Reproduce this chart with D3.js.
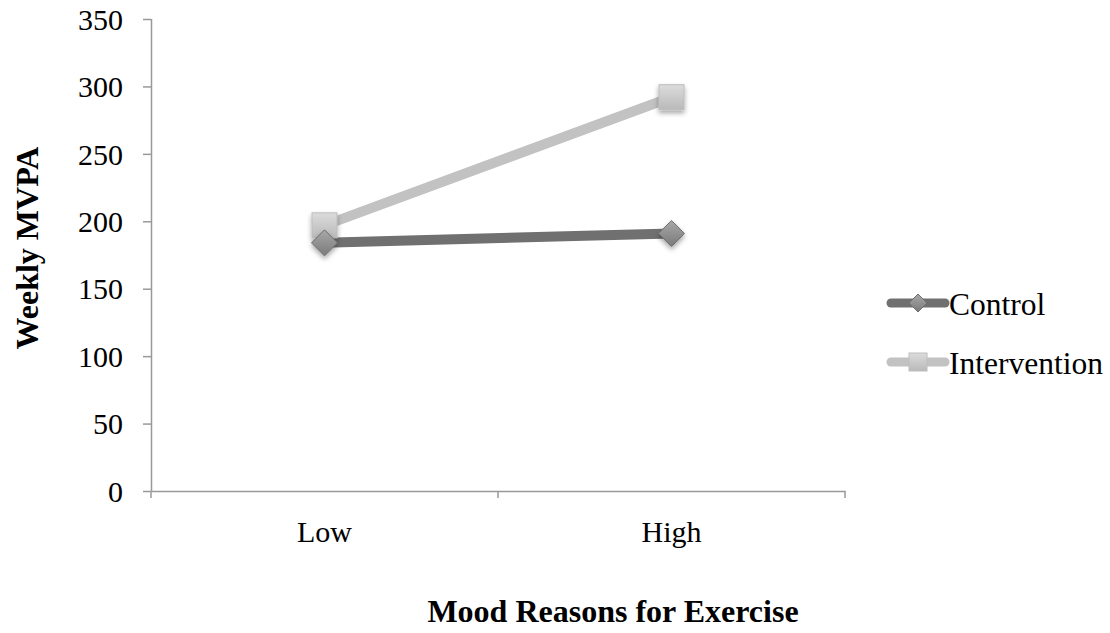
<!DOCTYPE html>
<html>
<head>
<meta charset="utf-8">
<script src="https://cdn.jsdelivr.net/npm/d3@7"></script>
<style>
  body { margin: 0; background: #fff; }
  svg { display: block; font-family: "Liberation Serif", "Times New Roman", serif; }
</style>
</head>
<body>
<svg id="chart" width="1110" height="633"></svg>
<script>
// Weekly MVPA by level of mood reasons for exercise
const categories = ["Low", "High"];
const seriesNames = ["Control", "Intervention"];
const controlValues = [184, 191];
const interventionValues = [197, 292];
const yTicks = [0, 50, 100, 150, 200, 250, 300, 350];

const svg = d3.select("#chart");
const margin = { left: 151, right: 265, top: 19, bottom: 142 };
const width = 1110, height = 633;

const x = d3.scaleBand().domain(categories).range([margin.left, width - margin.right]);
const y = d3.scaleLinear().domain([0, 350]).range([height - margin.bottom, margin.top]);

const defs = svg.append("defs");
const sq = defs.append("linearGradient").attr("id", "gSquare").attr("x1", 0).attr("y1", 0).attr("x2", 0).attr("y2", 1);
sq.append("stop").attr("offset", "0%").attr("stop-color", "#dcdcdc");
sq.append("stop").attr("offset", "100%").attr("stop-color", "#b9b9b9");
const dm = defs.append("linearGradient").attr("id", "gDiamond").attr("x1", 0).attr("y1", 0).attr("x2", 0).attr("y2", 1);
dm.append("stop").attr("offset", "0%").attr("stop-color", "#a8a8a8");
dm.append("stop").attr("offset", "100%").attr("stop-color", "#7a7a7a");
const sh = defs.append("filter").attr("id", "shadow").attr("x", "-50%").attr("y", "-50%").attr("width", "200%").attr("height", "200%");
sh.append("feDropShadow").attr("dx", 0).attr("dy", 3).attr("stdDeviation", 2.5).attr("flood-color", "#000").attr("flood-opacity", 0.35);

// Axes
const yAxis = d3.axisLeft(y).tickValues(yTicks).tickSize(8).tickPadding(20).tickFormat(d3.format("d"));
const gy = svg.append("g").attr("transform", `translate(${margin.left},0)`).call(yAxis);
const xAxis = d3.axisBottom(x).tickSize(0).tickPadding(30);
const gx = svg.append("g").attr("transform", `translate(0,${y(0)})`).call(xAxis);

[gy, gx].forEach(g => {
  g.attr("font-size", null).attr("font-family", null);
  g.select(".domain").attr("stroke", "#999").attr("stroke-width", 1.5);
  g.selectAll(".tick line").attr("stroke", "#999").attr("stroke-width", 1.5);
  g.selectAll("text").attr("fill", "#000").style("font-family", "'Liberation Serif', serif").style("font-size", "30px");
});
gy.selectAll("text").attr("dy", "0.34em");
gy.select(".domain").attr("d", `M0.5,${y(0)}V${y(350)}`);

// Category boundary ticks on the x axis
const bounds = [x.range()[0], x.range()[0] + x.step(), x.range()[1]];
gx.selectAll(".bound").data(bounds).join("line")
  .attr("x1", d => d).attr("x2", d => d).attr("y1", 0).attr("y2", 7)
  .attr("stroke", "#999").attr("stroke-width", 1.5);

const cx = c => x(c) + x.bandwidth() / 2;
const line = d3.line().x((d, i) => cx(categories[i])).y(d => y(d));

const series = [
  { name: seriesNames[0], values: controlValues, color: "#707070", shape: "diamond" },
  { name: seriesNames[1], values: interventionValues, color: "#c2c2c2", shape: "square" }
];

function drawMarker(g, shape, px, py) {
  if (shape === "square") {
    g.append("rect").attr("x", px - 12.5).attr("y", py - 12.5).attr("width", 25).attr("height", 25)
      .attr("fill", "url(#gSquare)").attr("stroke", "#bdbdbd").attr("stroke-width", 1).attr("filter", "url(#shadow)");
  } else {
    g.append("path").attr("d", `M${px},${py - 13}L${px + 13},${py}L${px},${py + 13}L${px - 13},${py}Z`)
      .attr("fill", "url(#gDiamond)").attr("stroke", "#6e6e6e").attr("stroke-width", 1).attr("filter", "url(#shadow)");
  }
}

series.forEach(s => {
  svg.append("path").datum(s.values).attr("d", line)
    .attr("fill", "none").attr("stroke", s.color).attr("stroke-width", 10).attr("stroke-linecap", "butt");
});
series.slice().reverse().forEach(s => {
  const g = svg.append("g");
  s.values.forEach((v, i) => drawMarker(g, s.shape, cx(categories[i]), y(v)));
});

// Legend
const legend = svg.append("g");
series.forEach((s, i) => {
  const ly = 303 + i * 59;
  const g = legend.append("g");
  g.append("line").attr("x1", 891).attr("x2", 945).attr("y1", ly).attr("y2", ly)
    .attr("stroke", s.color).attr("stroke-width", 9).attr("stroke-linecap", "round");
  if (s.shape === "square") {
    g.append("rect").attr("x", 909).attr("y", ly - 9).attr("width", 18).attr("height", 18)
      .attr("fill", "url(#gSquare)").attr("stroke", "#bdbdbd");
  } else {
    g.append("path").attr("d", `M918,${ly - 9}L927,${ly}L918,${ly + 9}L909,${ly}Z`)
      .attr("fill", "url(#gDiamond)").attr("stroke", "#6e6e6e");
  }
  g.append("text").attr("x", 949).attr("y", ly + 12).text(s.name)
    .style("font-size", "31.5px").attr("fill", "#000");
});

// Axis titles
svg.append("text").attr("transform", `translate(38,${(y(0) + y(350)) / 2 - 7}) rotate(-90)`)
  .attr("text-anchor", "middle").style("font-weight", "bold").style("font-size", "32px").text("Weekly MVPA");
svg.append("text").attr("x", 613).attr("y", 622).attr("text-anchor", "middle")
  .style("font-weight", "bold").style("font-size", "32px").text("Mood Reasons for Exercise");
</script>
</body>
</html>
